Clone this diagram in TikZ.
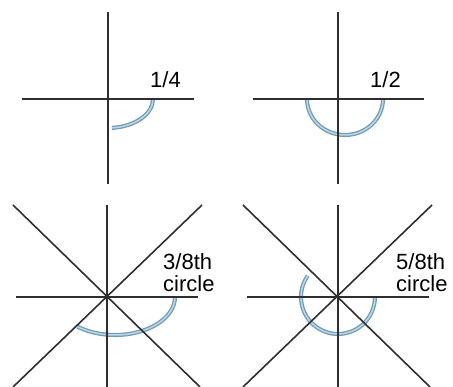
\documentclass[tikz,border=0pt]{standalone}
\usepackage{fontspec}
\setmainfont{Liberation Sans}
\usepackage{xcolor}
\usetikzlibrary{calc}
\definecolor{arcblue}{RGB}{112,156,182}
\definecolor{arcpale}{RGB}{190,214,228}
\begin{document}
\begin{tikzpicture}[x=1pt,y=1pt,
axis/.style={line width=1.6pt,draw=black!82},
arcline/.style={draw=arcblue,double=arcpale,line width=1.3pt,double distance=1.5pt},
lbl/.style={inner sep=0pt,font=\fontsize{22}{22}\selectfont,align=left}]
\useasboundingbox(0,0)rectangle(453,387);
\coordinate(c1)at(108,288);
\coordinate(c2)at(338,288);
\coordinate(c3)at(107,90);
\coordinate(c4)at(338,90);
% quarter
\draw[arcline]($(c1)+(45,0)$)arc[start angle=0,end angle=-85,x radius=45,y radius=29];
\draw[axis](22,288)--(194,288);
\draw[axis](108,375)--(108,203);
\node[lbl,anchor=base west](q1)at(150,299){1/4};
% half
\draw[arcline]($(c2)+(45,0)$)arc[start angle=0,end angle=-180,x radius=38,y radius=36];
\draw[axis](253,288)--(424,288);
\draw[axis](338,375)--(338,203);
\node[lbl,anchor=base west](q2)at(370,299){1/2};
% three eighths
\draw[arcline]($(c3)+(68,0)$)arc[start angle=0,end angle=-129,x radius=60,y radius=38];
\draw[axis](16,90)--(198,90);
\draw[axis](107,182)--(107,0);
\draw[axis](13,182)--(200,0);
\draw[axis](202,182)--(13,0);
\node[lbl,anchor=north west](q3)at(163,134){3/8th\\circle};
% five eighths
\draw[arcline]($(c4)+(145:37)$)arc[start angle=145,end angle=360,radius=37];
\draw[axis](247,90)--(429,90);
\draw[axis](338,182)--(338,0);
\draw[axis](243,182)--(430,0);
\draw[axis](432,182)--(243,0);
\node[lbl,anchor=north west](q4)at(396,134){5/8th\\circle};
\end{tikzpicture}
\end{document}
